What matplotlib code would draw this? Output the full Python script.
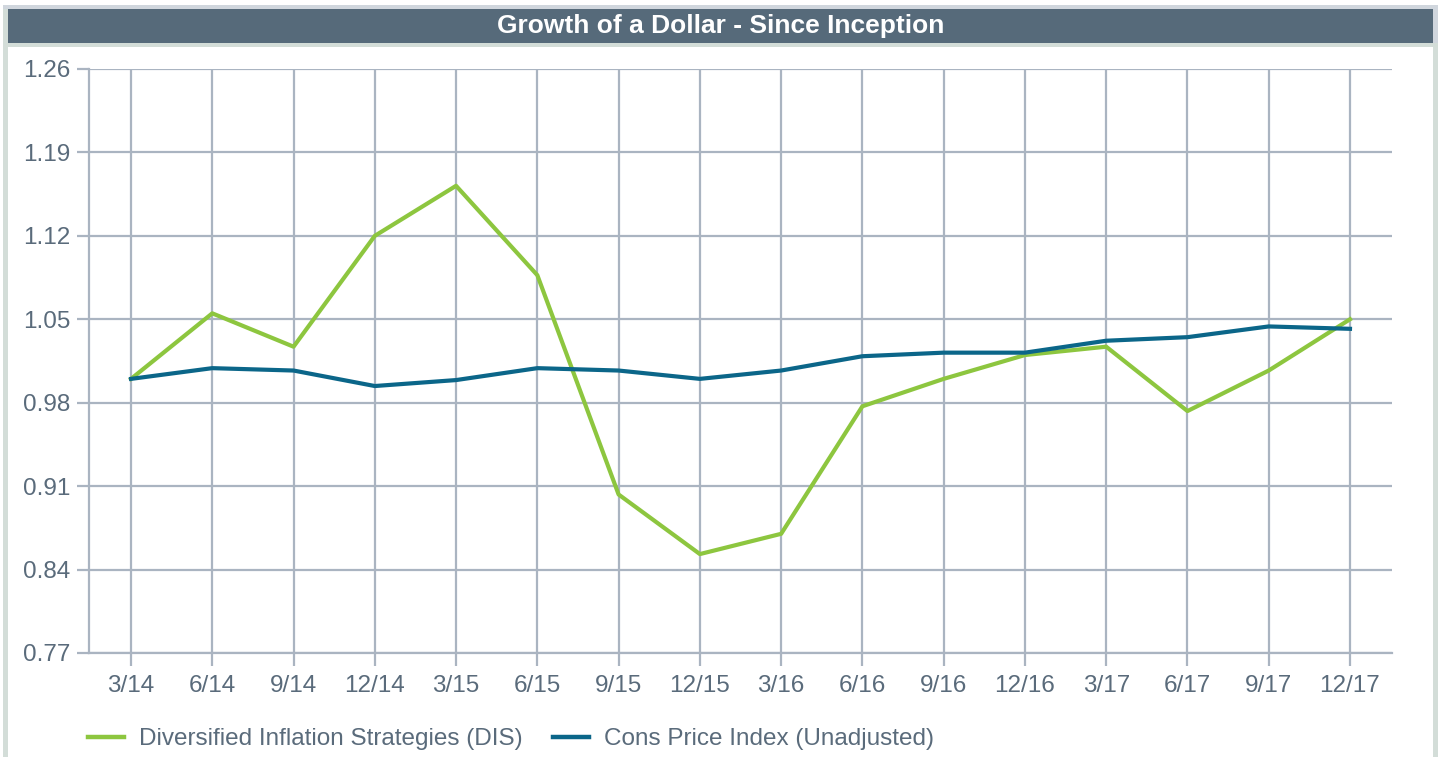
import matplotlib
matplotlib.use("Agg")
import matplotlib.pyplot as plt
from matplotlib.patches import Rectangle
from matplotlib.lines import Line2D

plt.rcParams['font.family'] = ['Liberation Sans', 'DejaVu Sans']

quarters = ["3/14", "6/14", "9/14", "12/14", "3/15", "6/15", "9/15", "12/15",
            "3/16", "6/16", "9/16", "12/16", "3/17", "6/17", "9/17", "12/17"]
dis = [1.000, 1.055, 1.027, 1.120, 1.162, 1.087, 0.903, 0.853,
       0.870, 0.977, 1.000, 1.020, 1.027, 0.973, 1.007, 1.050]
cpi = [1.000, 1.009, 1.007, 0.994, 0.999, 1.009, 1.007, 1.000,
       1.007, 1.019, 1.022, 1.022, 1.032, 1.035, 1.044, 1.042]
yticks = [0.77, 0.84, 0.91, 0.98, 1.05, 1.12, 1.19, 1.26]

W, H = 1443, 757
fig = plt.figure(figsize=(W/100, H/100), dpi=100)
fig.patch.set_facecolor('white')

txt = '#5a6b7b'
grid = '#aab4c1'
green = '#8dc63f'
blue = '#0b6689'
fs = 17.5

def rect(x0, y0, x1, y1, color):
    fig.add_artist(Rectangle((x0/W, 1-y1/H), (x1-x0)/W, (y1-y0)/H,
                             transform=fig.transFigure, facecolor=color,
                             edgecolor='none', zorder=0))
rect(3, 5, 1438, 9, '#d0d6dd')
rect(3, 9, 8, H, '#d3ddd8')
rect(1433, 9, 1438, H, '#d3ddd8')
rect(1433, 9, 1438, 43, '#d0d6dd')
rect(8, 9, 1433, 43, '#566a7a')
rect(8, 43, 1433, 47, '#d3ddd8')
fig.text((8+1433)/2/W, 1-26/H, "Growth of a Dollar - Since Inception",
         color='white', fontsize=19, fontweight='bold', ha='center', va='center')

left, right, top, bottom = 89, 1392, 69, 653
ax = fig.add_axes([left/W, 1-bottom/H, (right-left)/W, (bottom-top)/H])
x = list(range(len(quarters)))
ax.plot(x, dis, color=green, lw=3.0, zorder=3,
        label="Diversified Inflation Strategies (DIS)")
ax.plot(x, cpi, color=blue, lw=3.0, zorder=3,
        label="Cons Price Index (Unadjusted)")

ax.set_xlim(-0.517, len(quarters)-1+0.517)
ax.set_ylim(0.77, 1.26)
ax.set_yticks(yticks)
ax.set_yticklabels([f"{v:.2f}" for v in yticks])
ax.set_xticks(x)
ax.set_xticklabels(quarters)
ax.grid(True, color=grid, lw=1.6)
ax.set_axisbelow(True)
for s in ['top', 'right']:
    ax.spines[s].set_visible(False)
for s in ['left', 'bottom']:
    ax.spines[s].set_color(grid)
    ax.spines[s].set_linewidth(1.6)
ax.tick_params(axis='both', colors=grid, width=1.6,
               labelcolor=txt, labelsize=fs)
ax.tick_params(axis='y', length=8.6, pad=5)
ax.tick_params(axis='x', length=9.4, pad=6.5)

handles = [Line2D([], [], color=green, lw=3.2), Line2D([], [], color=blue, lw=3.2)]
labels = ["Diversified Inflation Strategies (DIS)", "Cons Price Index (Unadjusted)"]
fig.legend(handles, labels, loc='center left', bbox_to_anchor=(88/W, 1-739/H),
           ncol=2, frameon=False, fontsize=fs, handlelength=1.48,
           handletextpad=0.62, columnspacing=1.25, labelcolor=txt,
           borderpad=0.0, borderaxespad=0.0)

fig.savefig("out.png", dpi=100, facecolor='white')
